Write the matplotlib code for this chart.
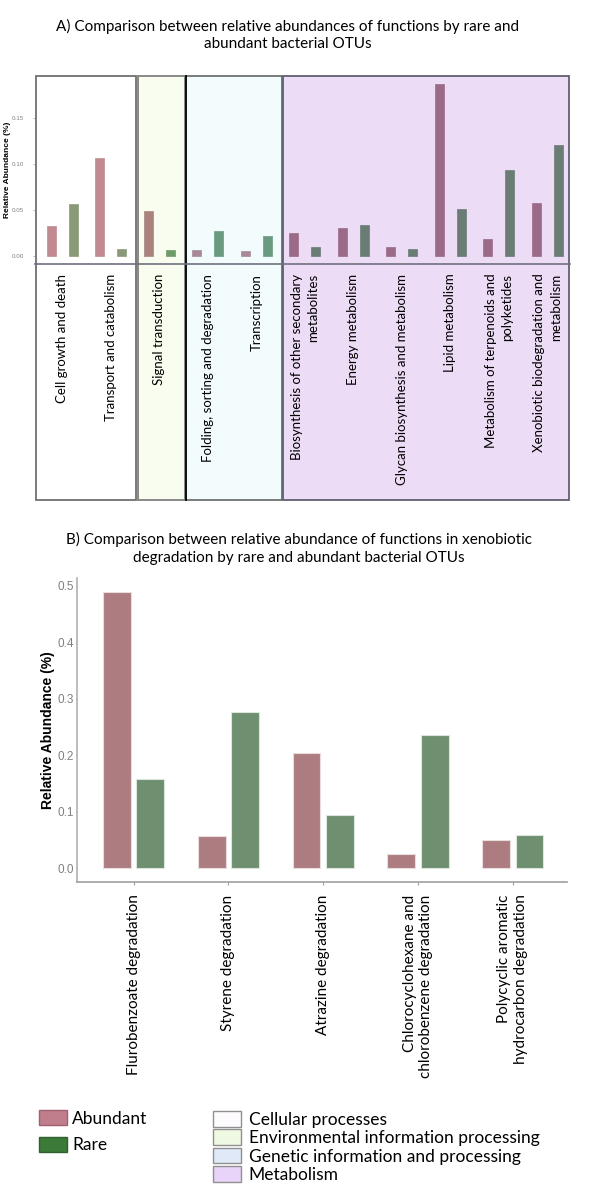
import numpy as np
import matplotlib.pyplot as plt
from matplotlib.patches import Patch, Rectangle

# Panel A data
funzioni_a = ['Cell growth and death', 'Transport and catabolism', 'Signal transduction',
              'Folding, sorting and degradation', 'Transcription',
              'Biosynthesis of other secondary\nmetabolites', 'Energy metabolism',
              'Glycan biosynthesis and metabolism', 'Lipid metabolism',
              'Metabolism of terpenoids and\npolyketides', 'Xenobiotic biodegradation and\nmetabolism']
abbondanti_a = [0.033, 0.107, 0.049, 0.007, 0.005, 0.025, 0.030, 0.010, 0.187, 0.019, 0.058]
rari_a = [0.056, 0.008, 0.0065, 0.027, 0.022, 0.0095, 0.034, 0.008, 0.051, 0.093, 0.121]
gruppi_a = [0, 0, 1, 2, 2, 3, 3, 3, 3, 3, 3]
nomi_gruppi = ['Cellular processes', 'Environmental information processing',
               'Genetic information and processing', 'Metabolism']

# Panel B data
funzioni_b = ['Flurobenzoate degradation', 'Styrene degradation', 'Atrazine degradation',
              'Chlorocyclohexane and\nchlorobenzene degradation',
              'Polycyclic aromatic\nhydrocarbon degradation']
abbondanti_b = [0.490, 0.057, 0.205, 0.025, 0.051]
rari_b = [0.159, 0.277, 0.095, 0.236, 0.059]

# Colori
sfondi = ['#ffffff', '#f8fdef', '#f3fcfd', '#eddcf5']
bordi = ['#707070', '#808080', '#707070', '#606070']
col_abb = ['#c08a90', '#a8847c', '#a8889a', '#9a6a88']
col_rar = ['#8a9a78', '#6f9a6a', '#6a9a80', '#6a7c74']

W, H = 616, 1200
fig = plt.figure(figsize=(W / 100, H / 100), dpi=100)

def box(x0, y0, x1, y1):
    return [x0 / W, 1 - y1 / H, (x1 - x0) / W, (y1 - y0) / H]

# ---------- Panel A ----------
ax1 = fig.add_axes(box(34.6, 76, 569.7, 264))
ax1.set_facecolor('none')
x = np.arange(len(funzioni_a))
ax1.set_xlim(-0.571, 10.46)
ax1.set_ylim(-0.0087, 0.1957)
ybot = -(500 - 264) / (264 - 76)

# Sfondi dei gruppi
limiti = [-0.571]
for i in range(1, len(gruppi_a)):
    if gruppi_a[i] != gruppi_a[i - 1]:
        limiti.append((x[i] + x[i - 1]) / 2 + 0.04)
limiti.append(10.46)
for g in range(4):
    x0, x1 = limiti[g], limiti[g + 1]
    ax1.add_patch(Rectangle((x0 + 0.02, ybot), x1 - x0 - 0.04, 1 - ybot,
                            transform=ax1.get_xaxis_transform(), clip_on=False,
                            facecolor=sfondi[g], edgecolor=bordi[g], lw=1.3, zorder=0))
# linea nera tra env e genetic
ax1.plot([limiti[2] + 0.02] * 2, [ybot, 1], color='#101010', lw=1.4,
         transform=ax1.get_xaxis_transform(), clip_on=False, zorder=1)

ca = [col_abb[g] for g in gruppi_a]
cr = [col_rar[g] for g in gruppi_a]
ax1.bar(x - 0.227, abbondanti_a, width=0.19, color=ca, edgecolor=ca, lw=0.5, zorder=2)
ax1.bar(x + 0.227, rari_a, width=0.19, color=cr, edgecolor=cr, lw=0.5, zorder=2)
ax1.axhline(-0.0087, color='#707080', lw=1.2, zorder=3, clip_on=False)

for s in ax1.spines.values():
    s.set_visible(False)
ax1.set_yticks([0, 0.05, 0.10, 0.15])
ax1.set_yticklabels(['0.00', '0.05', '0.10', '0.15'], fontsize=4.5, color='#808080',
                    family='Liberation Sans')
ax1.tick_params(axis='y', length=1.5, width=0.4, color='#808080', pad=6)
ax1.set_xticks(x)
ax1.set_xticklabels(funzioni_a, rotation=90, fontsize=9.5, family='Lato',
                    multialignment='right', va='top', ha='center', linespacing=1.45)
ax1.tick_params(axis='x', length=0, pad=7)
ax1.set_ylabel('Relative Abundance (%)', fontsize=6, fontweight='bold',
               family='Liberation Sans', labelpad=1)
fig.text(287.5 / W, 1 - 35 / H,
         'A) Comparison between relative abundances of functions by rare and\nabundant bacterial OTUs',
         ha='center', va='center', fontsize=11, family='Lato', linespacing=1.3)

# ---------- Panel B ----------
ax2 = fig.add_axes(box(76.6, 578, 566.6, 882))
xb = np.arange(len(funzioni_b))
ax2.bar(xb - 0.176, abbondanti_b, width=0.294, color='#ad7c80', edgecolor='#e8dcdc', lw=0.8)
ax2.bar(xb + 0.176, rari_b, width=0.294, color='#6e9070', edgecolor='#dce6dc', lw=0.8)
ax2.set_xlim(-0.601, 4.567)
ax2.set_ylim(-0.024, 0.514)
ax2.spines['top'].set_visible(False)
ax2.spines['right'].set_visible(False)
ax2.spines['left'].set_color('#b0b0b0')
ax2.spines['bottom'].set_color('#a0a0a0')
ax2.spines['left'].set_linewidth(1.2)
ax2.spines['bottom'].set_linewidth(1.2)
ax2.set_yticks([0, 0.1, 0.2, 0.3, 0.4, 0.5])
ax2.set_yticklabels(['0.0', '0.1', '0.2', '0.3', '0.4', '0.5'], fontsize=8.5,
                    color='#808080', family='Liberation Sans')
ax2.tick_params(axis='y', length=1, color='#b0b0b0', pad=1)
ax2.set_xticks(xb)
ax2.set_xticklabels(funzioni_b, rotation=90, fontsize=11, family='Lato',
                    multialignment='right', va='top', ha='center', linespacing=1.25)
ax2.tick_params(axis='x', length=2, color='#a0a0a0', pad=7)
ax2.set_ylabel('Relative Abundance (%)', fontsize=10, fontweight='bold',
               family='Liberation Sans', labelpad=2)
fig.text(298.6 / W, 1 - 548.5 / H,
         'B) Comparison between relative abundance of functions in xenobiotic\ndegradation by rare and abundant bacterial OTUs',
         ha='center', va='center', fontsize=11, family='Lato', linespacing=1.35)

# ---------- Legende ----------
h1 = [Patch(facecolor='#c07e8c', edgecolor='#a06070', label='Abundant'),
      Patch(facecolor='#3c7a38', edgecolor='#306030', label='Rare')]
fig.legend(handles=h1, loc='upper left', bbox_to_anchor=(39 / W, 1 - 1110 / H),
           frameon=False, prop={'family': 'Lato', 'size': 12.5}, handlelength=1.6,
           handleheight=0.96, handletextpad=0.3, labelspacing=0.6, borderpad=0,
           borderaxespad=0)
leg_col = ['#fdfbfd', '#eef8e2', '#dfe9f8', '#e8d4f8']
h2 = [Patch(facecolor=c, edgecolor='#909090', label=n) for c, n in zip(leg_col, nomi_gruppi)]
fig.legend(handles=h2, loc='upper left', bbox_to_anchor=(213 / W, 1 - 1111 / H),
           frameon=False, prop={'family': 'Lato', 'size': 12.5}, handlelength=1.6,
           handleheight=1.0, handletextpad=0.45, labelspacing=0.1, borderpad=0,
           borderaxespad=0)

fig.savefig('out.png', dpi=100)
